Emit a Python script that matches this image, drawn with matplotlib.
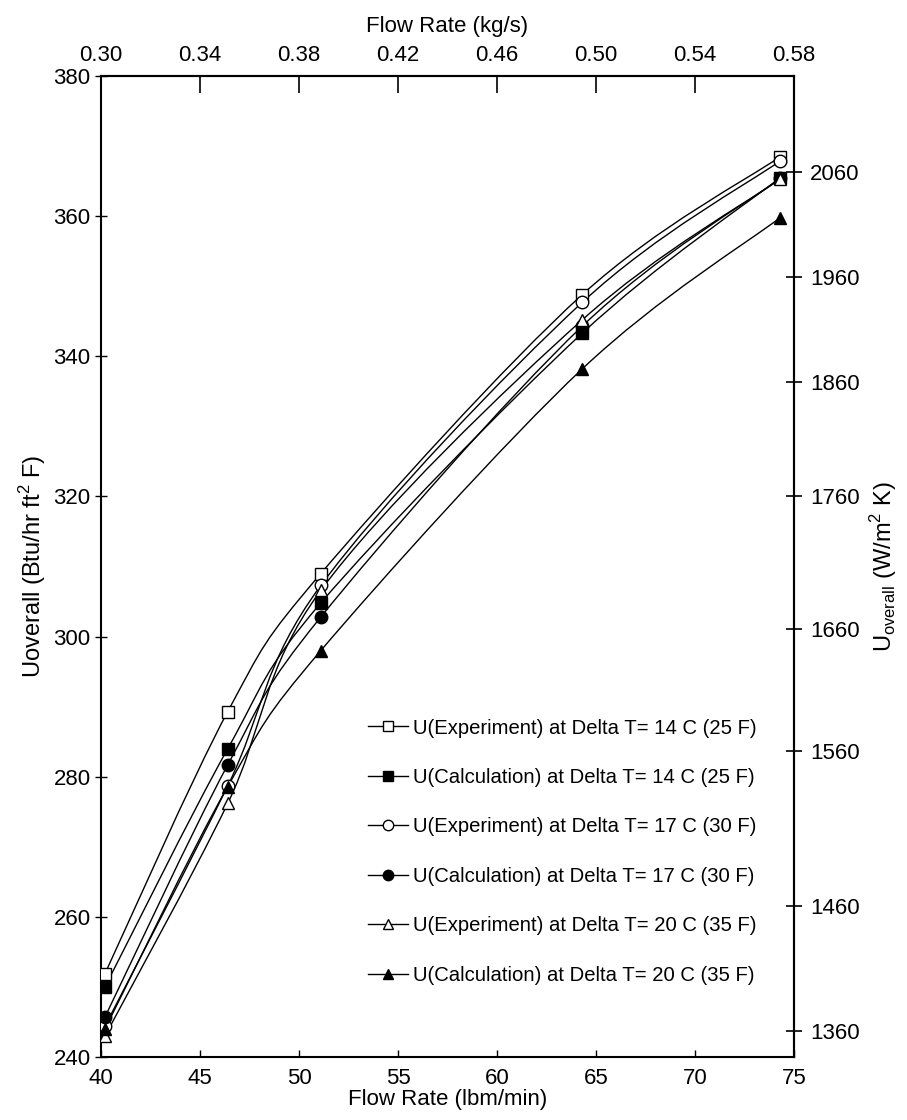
import numpy as np
import matplotlib
matplotlib.use("Agg")
import matplotlib.pyplot as plt
from matplotlib.lines import Line2D
from matplotlib.patches import PathPatch
from matplotlib.path import Path
from matplotlib.ticker import FormatStrFormatter

plt.rcParams["font.family"] = ["Liberation Sans", "DejaVu Sans"]
plt.rcParams["mathtext.fontset"] = "custom"
plt.rcParams["mathtext.rm"] = "Liberation Sans"

# flow rate (lbm/min) at each measurement
flow_lbm = [40.2, 46.4, 51.1, 64.3, 74.3]

# U overall (Btu/hr ft2 F)
u_exp_14 = [251.9, 289.3, 309.0, 348.8, 368.5]
u_calc_14 = [250.0, 284.0, 304.8, 343.3, 365.5]
u_exp_17 = [244.4, 278.7, 307.3, 347.7, 367.9]
u_calc_17 = [245.7, 281.7, 302.8, 344.3, 365.4]
u_exp_20 = [243.0, 276.2, 306.6, 345.2, 365.3]
u_calc_20 = [244.0, 278.6, 298.0, 338.2, 359.8]

labels = [
    "U(Experiment) at Delta T= 14 C (25 F)",
    "U(Calculation) at Delta T= 14 C (25 F)",
    "U(Experiment) at Delta T= 17 C (30 F)",
    "U(Calculation) at Delta T= 17 C (30 F)",
    "U(Experiment) at Delta T= 20 C (35 F)",
    "U(Calculation) at Delta T= 20 C (35 F)",
]

left_ticks = [240, 260, 280, 300, 320, 340, 360, 380]
bottom_ticks = [40, 45, 50, 55, 60, 65, 70, 75]
top_ticks = [0.30, 0.34, 0.38, 0.42, 0.46, 0.50, 0.54, 0.58]

# right axis as printed: W/m2 K ticks and where they sit on the Btu scale
right_ticks = [1360, 1460, 1560, 1660, 1760, 1860, 1960, 2060]
right_ticks_at_btu = [243.7, 261.6, 283.7, 301.1, 320.0, 336.3, 351.3, 366.3]


def smooth_path(x, y):
    """Excel-like smoothed line through the points as a cubic Bezier path."""
    pts = np.column_stack([x, y]).astype(float)
    ext = np.vstack([pts[0], pts, pts[-1]])
    verts = [pts[0]]
    codes = [Path.MOVETO]
    for i in range(len(pts) - 1):
        p0, p1, p2, p3 = ext[i], ext[i + 1], ext[i + 2], ext[i + 3]
        verts += [p1 + (p2 - p0) / 6, p2 - (p3 - p1) / 6, p2]
        codes += [Path.CURVE4] * 3
    return Path(verts, codes)


def lbm_to_kgs(v):
    return 0.30 + (np.asarray(v) - 40) * 0.28 / 35


def kgs_to_lbm(v):
    return 40 + (np.asarray(v) - 0.30) * 35 / 0.28


b_anch = np.array(right_ticks_at_btu)
w_anch = np.array(right_ticks, dtype=float)
lo_slope = (w_anch[1] - w_anch[0]) / (b_anch[1] - b_anch[0])
hi_slope = (w_anch[-1] - w_anch[-2]) / (b_anch[-1] - b_anch[-2])
b_anch = np.concatenate([[0], b_anch, [1000]])
w_anch = np.concatenate([[w_anch[0] - lo_slope * right_ticks_at_btu[0]], w_anch,
                         [w_anch[-1] + hi_slope * (1000 - right_ticks_at_btu[-1])]])


def btu_to_w(v):
    return np.interp(v, b_anch, w_anch)


def w_to_btu(v):
    return np.interp(v, w_anch, b_anch)


fig, ax = plt.subplots(figsize=(9.07, 11.2), dpi=100)
fig.subplots_adjust(left=0.1114, right=0.8754, bottom=0.0563, top=0.932)

series = [u_exp_14, u_calc_14, u_exp_17, u_calc_17, u_exp_20, u_calc_20]
markers = ["s", "s", "o", "o", "^", "^"]
faces = ["white", "black", "white", "black", "white", "black"]

handles = []
for ys, m, fc, lab in zip(series, markers, faces, labels):
    ax.add_patch(PathPatch(smooth_path(flow_lbm, ys), facecolor="none",
                           edgecolor="black", lw=1.0, zorder=2))
    ax.plot(flow_lbm, ys, ls="none", marker=m, ms=9, mfc=fc, mec="black",
            mew=1.0, zorder=3)
    handles.append(Line2D([], [], color="black", lw=1.0, marker=m, ms=7.5,
                          mfc=fc, mec="black", mew=1.0, label=lab))

ax.set_xlim(40, 75)
ax.set_ylim(240, 380)
ax.set_xticks(bottom_ticks)
ax.set_yticks(left_ticks)
ax.tick_params(axis="x", direction="in", length=5, width=1, labelsize=16, pad=8)
ax.tick_params(axis="y", direction="inout", length=9, width=1, labelsize=16, pad=3)
ax.set_xlabel("Flow Rate (lbm/min)", fontsize=16, labelpad=0)
ax.set_ylabel(r"Uoverall (Btu/hr ft$^{\mathregular{2}}$ F)", fontsize=17, labelpad=4)
for s in ax.spines.values():
    s.set_linewidth(1.5)

top = ax.secondary_xaxis("top", functions=(lbm_to_kgs, kgs_to_lbm))
top.set_xticks(top_ticks)
top.xaxis.set_major_formatter(FormatStrFormatter("%.2f"))
top.tick_params(direction="in", length=12, width=1.2, labelsize=16, pad=7)
top.set_xlabel("Flow Rate (kg/s)", fontsize=16, labelpad=10)
top.spines["top"].set_linewidth(1.5)

right = ax.secondary_yaxis("right", functions=(btu_to_w, w_to_btu))
right.set_yticks(right_ticks)
right.tick_params(direction="inout", length=11, width=1.2, labelsize=16, pad=6)
right.set_ylabel(r"U$_{\mathregular{overall}}$ (W/m$^{\mathregular{2}}$ K)",
                 fontsize=17, labelpad=6)
right.spines["right"].set_linewidth(1.5)

ax.legend(handles=handles, loc="upper left", bbox_to_anchor=(0.385, 0.345),
          frameon=False, fontsize=14.6, handlelength=2.0, handletextpad=0.25,
          labelspacing=1.5, borderpad=0, borderaxespad=0)

fig.savefig("out.png", dpi=100)
